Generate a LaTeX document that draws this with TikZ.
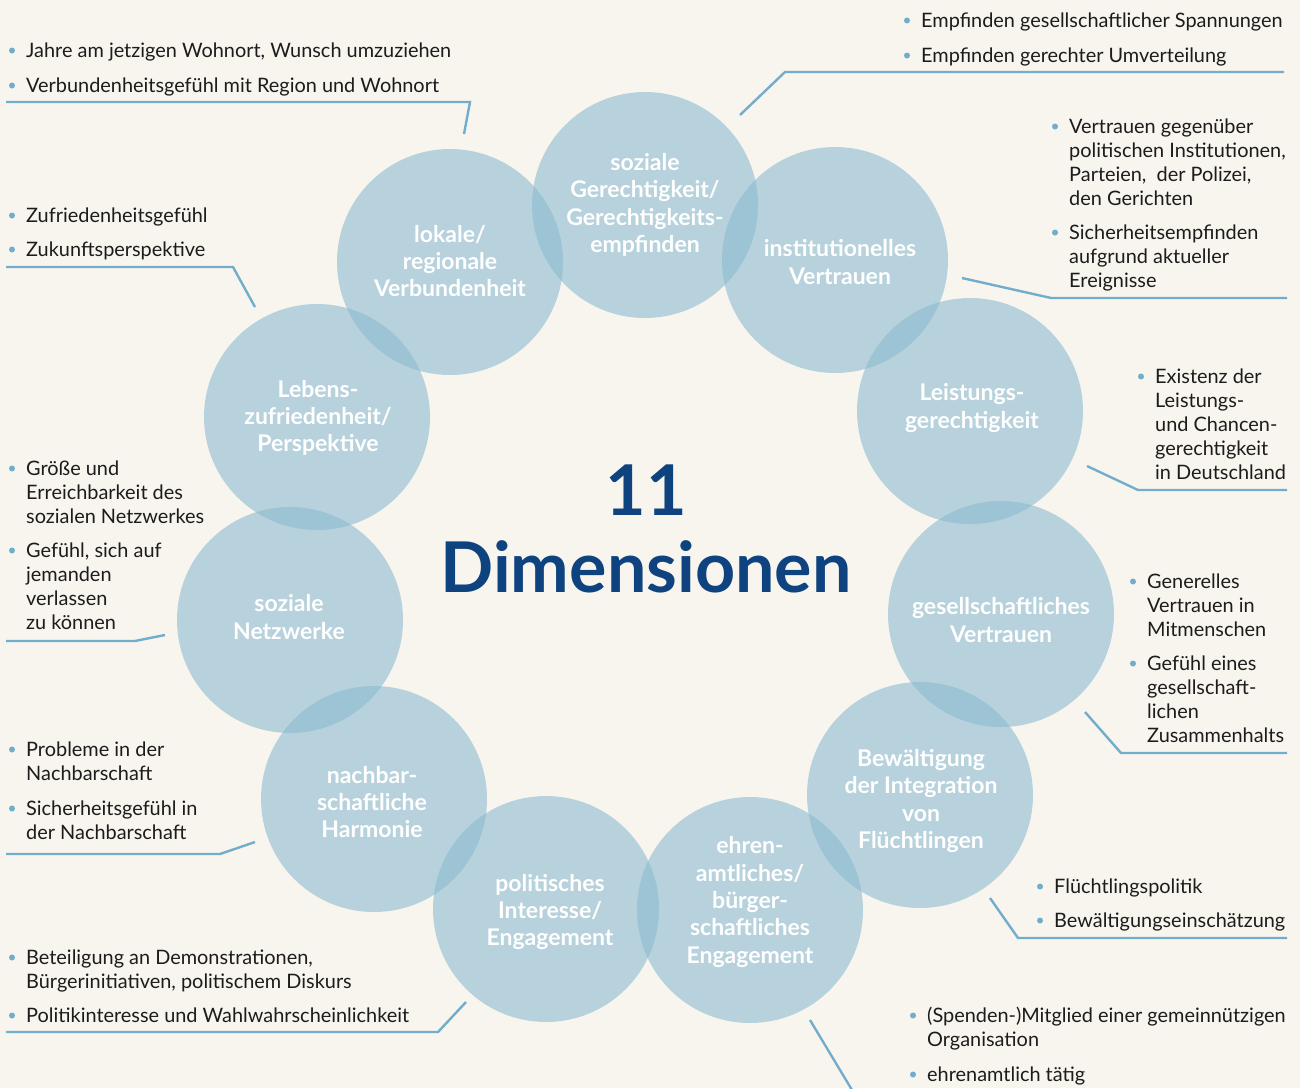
\documentclass[tikz,border=0pt]{standalone}
\usepackage{fontspec}
\setmainfont{Lato}
\usetikzlibrary{calc}
\definecolor{bgcream}{HTML}{F8F5EE}
\definecolor{ringblue}{HTML}{89BACF}
\definecolor{linkblue}{HTML}{72ADCB}
\definecolor{titleblue}{HTML}{0E437F}
\definecolor{bodytext}{HTML}{1C1C1C}
\newcommand\bodyfont{\fontsize{19.9}{24}\selectfont}
\newcommand\ringfont{\fontsize{23}{27.3}\selectfont\bfseries}
% one bullet point: name, x, baseline y, lines
\newcommand\bitem[4]{%
  \node[itemtxt] (#1) at (#2,#3) {\begin{tabular}[t]{@{}l@{}}#4\end{tabular}};
  \fill[linkblue] ($(#1.base west)+(-14,-6.5)$) circle (3pt);}
\begin{document}
\begin{tikzpicture}[x=1pt,y=-1pt,
  ring/.style={circle,minimum size=226pt,inner sep=0pt,fill=ringblue,fill opacity=0.58,draw=none},
  ringtxt/.style={align=center,text=white,font=\ringfont,inner sep=0pt},
  itemtxt/.style={anchor=base west,inner sep=0pt,font=\bodyfont,text=bodytext},
  link/.style={draw=linkblue,line width=2.4pt,line join=miter}]
\fill[bgcream] (0,0) rectangle (1300,1088);
\useasboundingbox (0,0) rectangle (1300,1088);

% the eleven circles
\node[ring] (sg) at (645,205) {};
\node[ring] (iv) at (835,260) {};
\node[ring] (lg) at (970,411) {};
\node[ring] (gv) at (1001,614) {};
\node[ring] (bi) at (920,795) {};
\node[ring] (ee) at (750,910) {};
\node[ring] (pi) at (546,909) {};
\node[ring] (nh) at (374,799) {};
\node[ring] (sn) at (290,620) {};
\node[ring] (lz) at (317,417) {};
\node[ring] (lv) at (450,262) {};

% circle captions
\node[ringtxt] (sgt) at (645,205) {soziale\\Gerechtigkeit/\\Gerechtigkeits-\\empfinden};
\node[ringtxt] (ivt) at (840,262) {institutionelles\\Vertrauen};
\node[ringtxt] (lgt) at (972,408) {Leistungs-\\gerechtigkeit};
\node[ringtxt] (gvt) at (1001,620) {gesellschaftliches\\Vertrauen};
\node[ringtxt] (bit) at (921,801) {Bewältigung\\der Integration\\von\\Flüchtlingen};
\node[ringtxt] (eet) at (750,902) {ehren-\\amtliches/\\bürger-\\schaftliches\\Engagement};
\node[ringtxt] (pit) at (550,912) {politisches\\Interesse/\\Engagement};
\node[ringtxt] (nht) at (372,802) {nachbar-\\schaftliche\\Harmonie};
\node[ringtxt] (snt) at (289,617) {soziale\\Netzwerke};
\node[ringtxt] (lzt) at (318,418) {Lebens-\\zufriedenheit/\\Perspektive};
\node[ringtxt] (lvt) at (450,261) {lokale/\\regionale\\Verbundenheit};

% centre title
\node[anchor=base,inner sep=0pt,text=titleblue,font=\fontsize{70}{80}\selectfont\bfseries] (num) at (646,515) {11};
\node[anchor=base,inner sep=0pt,text=titleblue,font=\fontsize{70}{80}\selectfont\bfseries] (dim) at (646,592) {Dimensionen};

% bullet lists
\bitem{a1}{26}{57}{Jahre am jetzigen Wohnort, Wunsch umzuziehen}
\bitem{a2}{26}{92}{Verbundenheitsgefühl mit Region und Wohnort}
\bitem{b1}{921}{27}{Empfinden gesellschaftlicher Spannungen}
\bitem{b2}{921}{62}{Empfinden gerechter Umverteilung}
\bitem{c1}{1069}{133}{Vertrauen gegenüber\\politischen Institutionen,\\Parteien,\ \ der Polizei,\\den Gerichten}
\bitem{c2}{1069}{239}{Sicherheitsempfinden\\aufgrund aktueller\\Ereignisse}
\bitem{d1}{26}{222}{Zufriedenheitsgefühl}
\bitem{d2}{26}{256}{Zukunftsperspektive}
\bitem{e1}{1155}{383}{Existenz der\\Leistungs-\\und Chancen-\\gerechtigkeit\\in Deutschland}
\bitem{f1}{26}{475}{Größe und\\Erreichbarkeit des\\sozialen Netzwerkes}
\bitem{f2}{26}{557}{Gefühl, sich auf\\jemanden\\verlassen\\zu können}
\bitem{g1}{1147}{588}{Generelles\\Vertrauen in\\Mitmenschen}
\bitem{g2}{1147}{670}{Gefühl eines\\gesellschaft-\\lichen\\Zusammenhalts}
\bitem{h1}{26}{756}{Probleme in der\\Nachbarschaft}
\bitem{h2}{26}{815}{Sicherheitsgefühl in\\der Nachbarschaft}
\bitem{i1}{1054}{893}{Flüchtlingspolitik}
\bitem{i2}{1054}{927}{Bewältigungseinschätzung}
\bitem{j1}{26}{964}{Beteiligung an Demonstrationen,\\Bürgerinitiativen, politischem Diskurs}
\bitem{j2}{26}{1022}{Politikinteresse und Wahlwahrscheinlichkeit}
\bitem{k1}{927}{1022}{(Spenden-)Mitglied einer gemeinnützigen\\Organisation}
\bitem{k2}{927}{1081}{ehrenamtlich tätig}

% leader lines
\coordinate (lvA) at (6,102);   \coordinate (lvB) at (470,102);  \coordinate (lvC) at (464,134);
\coordinate (sgA) at (740,115); \coordinate (sgB) at (785,72);   \coordinate (sgC) at (1284,72);
\coordinate (ivA) at (962,278); \coordinate (ivB) at (1051,298); \coordinate (ivC) at (1287,298);
\coordinate (lzA) at (6,267);   \coordinate (lzB) at (233,267);  \coordinate (lzC) at (255,307);
\coordinate (lgA) at (1087,466);\coordinate (lgB) at (1138,490); \coordinate (lgC) at (1287,490);
\coordinate (snA) at (6,641);   \coordinate (snB) at (135,641);  \coordinate (snC) at (165,635);
\coordinate (gvA) at (1085,712);\coordinate (gvB) at (1121,753); \coordinate (gvC) at (1287,753);
\coordinate (nhA) at (6,854);   \coordinate (nhB) at (220,854);  \coordinate (nhC) at (255,842);
\coordinate (biA) at (990,898); \coordinate (biB) at (1018,938); \coordinate (biC) at (1287,938);
\coordinate (piA) at (6,1032);  \coordinate (piB) at (438,1032); \coordinate (piC) at (466,1002);
\coordinate (eeA) at (810,1020);\coordinate (eeB) at (852,1090);

\draw[link] (lvA) -- (lvB) -- (lvC);
\draw[link] (sgA) -- (sgB) -- (sgC);
\draw[link] (ivA) -- (ivB) -- (ivC);
\draw[link] (lzA) -- (lzB) -- (lzC);
\draw[link] (lgA) -- (lgB) -- (lgC);
\draw[link] (snA) -- (snB) -- (snC);
\draw[link] (gvA) -- (gvB) -- (gvC);
\draw[link] (nhA) -- (nhB) -- (nhC);
\draw[link] (biA) -- (biB) -- (biC);
\draw[link] (piA) -- (piB) -- (piC);
\draw[link] (eeA) -- (eeB);
\end{tikzpicture}
\end{document}
